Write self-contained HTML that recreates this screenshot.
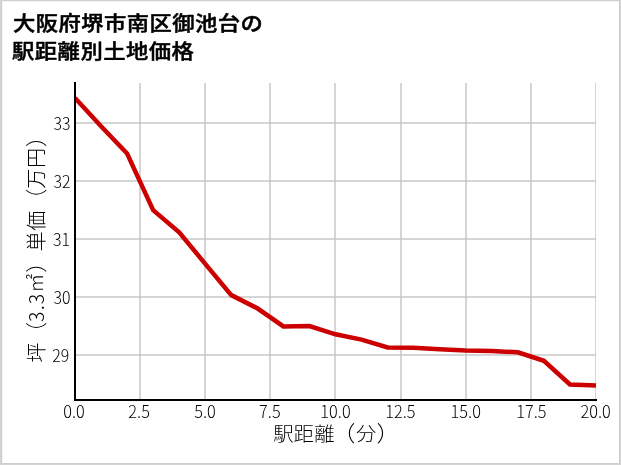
<!DOCTYPE html>
<html lang="ja">
<head>
<meta charset="utf-8">
<title>大阪府堺市南区御池台の駅距離別土地価格</title>
<style>
html,body{margin:0;padding:0;background:#fff;}
body{width:621px;height:465px;overflow:hidden;position:relative;}
svg{display:block;position:absolute;left:0;top:0;}
text{font-family:"Liberation Sans","Noto Sans CJK JP",sans-serif;fill:#000000;}
.title{font-family:"Liberation Sans","Noto Sans CJK JP",sans-serif;font-weight:500;font-size:20.3px;fill:#000;stroke:#000;stroke-width:0.48px;stroke-linejoin:round;letter-spacing:0.4px;}
.tick text{font-family:"Noto Sans CJK JP","Liberation Sans",sans-serif;font-size:17.0px;font-weight:300;}
.xt text{text-anchor:middle;}
.yt text{text-anchor:end;}
.lab{font-family:"Noto Sans CJK JP","Liberation Sans",sans-serif;font-weight:300;text-anchor:middle;}
</style>
</head>
<body>
<svg width="621" height="465" viewBox="0 0 621 465">
<rect x="0" y="0" width="621" height="465" fill="#ffffff"/>
<g fill="#f4f4f4">
<rect x="0" y="1" width="621" height="1"/>
<rect x="2" y="0" width="1" height="465"/>
</g>
<g fill="#cecece">
<rect x="0" y="0" width="621" height="1"/>
<rect x="0" y="463" width="621" height="1"/>
<rect x="1" y="0" width="1" height="465"/>
<rect x="619" y="0" width="1" height="465"/>
</g>
<g fill="#d4d4d4">
<rect x="0" y="464" width="621" height="1"/>
<rect x="0" y="0" width="1" height="465"/>
<rect x="620" y="0" width="1" height="465"/>
</g>
<clipPath id="ax"><rect x="75.0" y="82.0" width="521.0" height="318.0"/></clipPath>
<g clip-path="url(#ax)">
<g stroke="#d5d5d5" stroke-width="2" fill="none">
<line x1="140.00" y1="83.0" x2="140.00" y2="400.0"/>
<line x1="205.00" y1="83.0" x2="205.00" y2="400.0"/>
<line x1="270.00" y1="83.0" x2="270.00" y2="400.0"/>
<line x1="335.00" y1="83.0" x2="335.00" y2="400.0"/>
<line x1="401.00" y1="83.0" x2="401.00" y2="400.0"/>
<line x1="466.00" y1="83.0" x2="466.00" y2="400.0"/>
<line x1="531.00" y1="83.0" x2="531.00" y2="400.0"/>
<line x1="596.00" y1="83.0" x2="596.00" y2="400.0"/>
</g>
<g stroke="#c0c0c0" stroke-opacity="0.66" stroke-width="2" fill="none">
<line x1="75.0" y1="355.00" x2="596.0" y2="355.00"/>
<line x1="75.0" y1="297.00" x2="596.0" y2="297.00"/>
<line x1="75.0" y1="239.00" x2="596.0" y2="239.00"/>
<line x1="75.0" y1="181.00" x2="596.0" y2="181.00"/>
<line x1="75.0" y1="123.00" x2="596.0" y2="123.00"/>
</g>
<polyline points="75.00,97.90 101.05,126.20 127.10,153.50 153.15,210.10 179.20,232.30 205.25,263.90 231.30,295.10 257.35,308.30 283.40,326.40 309.45,326.10 335.50,334.30 361.55,339.60 387.60,347.40 413.65,347.70 439.70,349.20 465.75,350.60 491.80,351.10 517.85,352.30 543.90,360.80 569.95,384.50 596.00,385.40" fill="none" stroke="#cc0000" stroke-width="4.5" stroke-linejoin="miter" stroke-linecap="butt"/>
</g>
<path d="M75.0 82.0 V400.0 H597.0" fill="none" stroke="#000" stroke-width="2" stroke-linejoin="miter"/>
<g class="tick xt">
<text transform="translate(74.00,418.0) scale(0.96,1)">0.0</text>
<text transform="translate(139.12,418.0) scale(0.96,1)">2.5</text>
<text transform="translate(204.95,418.0) scale(0.96,1)">5.0</text>
<text transform="translate(269.88,418.0) scale(0.96,1)">7.5</text>
<text transform="translate(335.50,418.0) scale(0.96,1)">10.0</text>
<text transform="translate(400.43,418.0) scale(0.96,1)">12.5</text>
<text transform="translate(465.75,418.0) scale(0.96,1)">15.0</text>
<text transform="translate(531.38,418.0) scale(0.96,1)">17.5</text>
<text transform="translate(595.70,418.0) scale(0.96,1)">20.0</text>
</g>
<g class="tick yt">
<text transform="translate(69.20,362.20) scale(0.935,1)">29</text>
<text transform="translate(70.40,304.20) scale(0.935,1)">30</text>
<text transform="translate(70.00,246.20) scale(0.935,1)">31</text>
<text transform="translate(70.40,188.20) scale(0.935,1)">32</text>
<text transform="translate(70.40,130.20) scale(0.935,1)">33</text>
</g>
<text class="title" transform="translate(12.9,31.1) scale(1.1,1)">大阪府堺市南区御池台の</text>
<text class="title" transform="translate(12.1,58.7) scale(1.1,1)">駅距離別土地価格</text>
<text class="lab" aria-label="駅距離（分）" font-size="19.05" transform="translate(0,440.55) scale(1.07,1)"><tspan x="264.91 283.93 303.22" y="0">駅距離</tspan><tspan x="321.39" y="0.65" font-size="21.7">（</tspan><tspan x="342.24" y="0">分</tspan><tspan x="362.77" y="0.65" font-size="21.7">）</tspan></text>
<text class="lab" aria-label="坪（3.3㎡）単価（万円）" font-size="20.8" transform="translate(44.4,0) rotate(-90) scale(0.96,1)"><tspan x="-367.14" y="0">坪</tspan><tspan x="-346.29" y="0.0" font-size="21.6">（</tspan><tspan x="-320.08" y="0" font-size="20.1" letter-spacing="1.4">3.3</tspan><tspan x="-295.00" y="-1.6" font-size="19.6">㎡</tspan><tspan x="-273.29" y="0.0" font-size="21.6">）</tspan><tspan x="-251.41 -230.00" y="0">単価</tspan><tspan x="-207.34" y="0.0" font-size="21.6">（</tspan><tspan x="-186.30 -164.53" y="0">万円</tspan><tspan x="-142.35" y="0.0" font-size="21.6">）</tspan></text>
</svg>
</body>
</html>
